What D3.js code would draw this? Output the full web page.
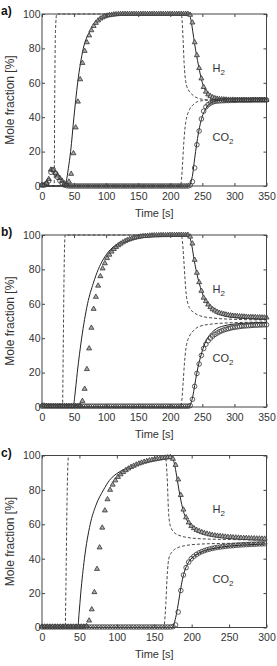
<!DOCTYPE html>
<html>
<head>
<meta charset="utf-8">
<script src="https://cdn.jsdelivr.net/npm/d3@7"></script>
<style>
  body { margin: 0; background: #fff; }
  svg { display: block; font-family: "Liberation Sans", Arial, sans-serif; }
</style>
</head>
<body>
<div id="chart"></div>
<script>
// sampling times of the measured points [s]
const timeAB = [0,3.5,7,10.5,14,17.5,21,24.5,28,31.5,35,38.5,42,45.5,49,52.5,56,59.5,63,66.5,
  70,73.5,77,80.5,84,87.5,91,94.5,98,101.5,105,108.5,112,115.5,119,122.5,126,129.5,133,136.5,
  140,143.5,147,150.5,154,157.5,161,164.5,168,171.5,175,178.5,182,185.5,189,192.5,196,199.5,203,206.5,
  210,213.5,217,220.5,224,227.5,231,234.5,238,241.5,245,248.5,252,255.5,259,262.5,266,269.5,273,276.5,
  280,283.5,287,290.5,294,297.5,301,304.5,308,311.5,315,318.5,322,325.5,329,332.5,336,339.5,343,346.5,350];
const timeC = [0,3.5,7,10.5,14,17.5,21,24.5,28,31.5,35,38.5,42,45.5,49,52.5,56,59.5,63,66.5,
  70,73.5,77,80.5,84,87.5,91,94.5,98,101.5,105,108.5,112,115.5,119,122.5,126,129.5,133,136.5,
  140,143.5,147,150.5,154,157.5,161,164.5,168,171.5,175,178.5,182,185.5,189,192.5,196,199.5,203,206.5,
  210,213.5,217,220.5,224,227.5,231,234.5,238,241.5,245,248.5,252,255.5,259,262.5,266,269.5,273,276.5,
  280,283.5,287,290.5,294,297.5];

// measured mole fractions [%]
const h2ExpA = [0.5,0.5,1.5,4,9.5,9,7.5,6,4.5,3,
  1.5,1,2.5,7,19,34,49,62,71.5,78.5,
  83.5,87.5,90.5,93,94.8,96.2,97.3,98,98.6,99,
  99.3,99.5,99.7,99.8,99.9,100,100,100,100,100,
  100,100,100,100,100,100,100,100,100,100,
  100,100,100,100,100,100,100,100,100,100,
  100,100,100,100,100,100,99.5,95,83.5,76,
  68.5,62.5,57.5,54.8,53.2,52.2,51.5,51,50.7,50.5,
  50.4,50.3,50.2,50.1,50.1,50.1,50,50,50,50,
  50,50,50,50,50,50,50,50,50,50,50];
const co2ExpA = [0.5,0.5,1.5,3,8,9.5,7.5,5,3,1.5,
  0.5,0.2,0,0,0,0,0,0,0,0,
  0,0,0,0,0,0,0,0,0,0,
  0,0,0,0,0,0,0,0,0,0,
  0,0,0,0,0,0,0,0,0,0,
  0,0,0,0,0,0,0,0,0,0,
  0,0,0,0,0,0,0.5,2.5,10.5,24,
  32,39,43.5,46,47.3,48.2,48.8,49.2,49.4,49.5,
  49.6,49.6,49.7,49.7,49.8,49.8,49.8,49.9,49.9,49.9,
  49.9,49.9,49.9,49.9,50,50,50,50,50,50,50];
const h2ExpB = [0.8,0.8,0.6,0.5,0.5,0.5,0.5,0.5,0.5,0.5,
  0.5,0.5,0.5,0.5,0.5,0.5,0.5,0.8,3.5,10.5,
  22,34,46,57,64,70.5,76,80.5,83.5,86.5,
  88.5,90.3,91.8,93,94,94.9,95.7,96.4,97,97.5,
  97.9,98.3,98.6,98.9,99.1,99.3,99.4,99.5,99.6,99.7,
  99.8,99.8,99.8,99.9,99.9,99.9,99.9,100,100,100,
  100,100,100,100,100,100,99,95,85.5,78,
  72.5,67.5,63.5,61.5,59.5,58,56.8,56,55.3,54.7,
  54.3,54,53.7,53.4,53.2,53,52.9,52.8,52.7,52.6,
  52.5,52.4,52.3,52.3,52.2,52.2,52.1,52.1,52,52,52];
const co2ExpB = [0.5,0.5,0.5,0.5,0.5,0.5,0.5,0.5,0.5,0.5,
  0.5,0.5,0.5,0.5,0.5,0.5,0.5,0.5,0.5,0.5,
  0.5,0.5,0.5,0.5,0.5,0.5,0.5,0.5,0.5,0.5,
  0.5,0.5,0.5,0.5,0.5,0.5,0.5,0.5,0.5,0.5,
  0.5,0.5,0.5,0.5,0.5,0.5,0.5,0.5,0.5,0.5,
  0.5,0.5,0.5,0.5,0.5,0.5,0.5,0.5,0.5,0.5,
  0.5,0.5,0.5,0.5,0.5,0.5,0.8,4.5,12,19.5,
  25,30,34,36.5,38.5,40,41.2,42.2,43,43.7,
  44.3,44.8,45.2,45.6,45.9,46.2,46.4,46.6,46.8,47,
  47.1,47.2,47.3,47.4,47.5,47.6,47.6,47.7,47.7,47.8,47.8];
const h2ExpC = [0.5,0.5,0.5,0.5,0.5,0.5,0.5,0.5,0.5,0.5,
  0.5,0.5,0.5,0.5,0.5,0.5,0.5,0.8,4,10.5,
  20.5,34,46.5,58,68,74.5,80,83,85.5,87.5,
  89,90.3,91.4,92.4,93.3,94,94.7,95.3,95.8,96.3,
  96.7,97.1,97.4,97.7,98,98.2,98.5,98.7,98.9,99,
  98,94.5,86,77,68.5,64,61,59,57.7,56.7,
  56,55.4,54.9,54.5,54.1,53.8,53.5,53.3,53.1,52.9,
  52.8,52.6,52.5,52.4,52.3,52.2,52.1,52,52,51.9,
  51.8,51.8,51.7,51.7,51.6,51.6];
const co2ExpC = [0.3,0.3,0.3,0.3,0.3,0.3,0.3,0.3,0.3,0.3,
  0.3,0.3,0.3,0.3,0.3,0.3,0.3,0.3,0.3,0.3,
  0.3,0.3,0.3,0.3,0.3,0.3,0.3,0.3,0.3,0.3,
  0.3,0.3,0.3,0.3,0.3,0.3,0.3,0.3,0.3,0.3,
  0.3,0.3,0.3,0.3,0.3,0.3,0.3,0.3,0.3,0.3,
  0.5,1.5,9,21.5,30.5,34.8,38,40,41.4,42.5,
  43.4,44.1,44.7,45.2,45.6,46,46.3,46.6,46.8,47,
  47.2,47.4,47.5,47.6,47.8,47.9,48,48.1,48.2,48.3,
  48.4,48.4,48.5,48.6,48.6,48.7];

// model curves (solid), [time, value]
const h2ModelA = [[0,0],[36,0],[38,3],[41,10],[44.6,20],[49.8,40],[55.6,60],[64.4,80],[74.8,90],[85,95],
  [95,97.8],[106,99],[120,99.8],[140,100],[229,100],[232,97],[235,90],[238,82.5],[241,76],[244,70],
  [247,64.5],[250,60],[254,56],[258,53.5],[263,51.8],[268,50.9],[275,50.4],[290,50.1],[350,50]];
const co2ModelA = [[0,0],[229,0],[232,2],[235,7],[238,16],[241,24],[244,31],[247,36.5],[250,40.5],
  [254,44],[258,46.5],[263,48.2],[268,49.1],[275,49.6],[290,49.9],[350,50]];
const h2ModelB = [[0,0],[48.8,0],[51,6],[55,20],[61.8,40],[71,60],[80,72],[87.7,80],[95,85.5],[103,90],
  [111,93],[119,95],[130,97],[145,98.7],[160,99.5],[180,99.9],[228,100],[231,98],[234,93],[237,86],
  [240,80],[243,75],[247,69.5],[251,65],[256,61],[262,58],[270,55.5],[280,53.5],[295,52.2],[315,51.5],
  [335,51.1],[350,51]];
const co2ModelB = [[0,0],[229,0],[232,2],[235,6],[238,12.5],[241,19],[245,26],[249,31.5],[253,36],
  [258,40],[264,43],[272,45.5],[282,47],[295,48],[315,48.7],[350,49.1]];
const h2ModelC = [[0,0],[47.8,0],[49.5,8],[51.8,20],[56.7,40],[64.4,60],[72,71],[82.2,80],[90,85.5],
  [100,89.5],[110,92],[120,94],[135,96.2],[150,97.7],[165,98.7],[173,99.1],[175,98],[177,95],[180,88],
  [183,80],[186,73],[189,67.5],[193,63],[198,59.5],[205,57],[215,55.2],[230,53.8],[250,52.7],[275,51.9],
  [300,51.4]];
const co2ModelC = [[0,0],[174,0],[176,1.5],[178,4.5],[181,11],[184,19],[187,26.5],[190,32],[194,36.5],
  [199,39.8],[205,42],[215,44.3],[230,46],[250,47.3],[275,48.1],[300,48.6]];

// feed curves (dashed), [time, value]
const h2FeedA = [[0,0],[19,0],[19.8,50],[21,90],[23,100],[217,100],[218.5,96],[220,85],[221.5,72],
  [223,64],[225,59],[228,56],[232,54],[236,52.5],[242,51.2],[250,50.4],[265,50],[350,50]];
const co2FeedA = [[0,0],[216,0],[217.5,4],[219,12],[220.5,22],[222,30],[224,37],[226.4,41],[230,44.5],
  [235.7,47.3],[242,49],[250,49.6],[265,50],[350,50]];
const h2FeedB = [[0,0],[32,0],[33,30],[34.5,80],[36,100],[217,100],[219,96],[221,86],[223,74],[225,65],
  [227.5,60],[231,57],[236.5,55],[246.5,53],[267,51.7],[298,51],[350,50.6]];
const co2FeedB = [[0,0],[216,0],[218,4],[220,14],[222,25],[224,33],[226.5,38],[229,40.5],[236.5,44.5],
  [246.5,47],[267,48.3],[298,49],[350,49.4]];
const h2FeedC = [[0,0],[31,0],[32,25],[33.5,75],[35.5,100],[164.5,100],[166,96],[167.5,85],[169,68],
  [170.5,61],[173,57.5],[176,55.5],[182,53.8],[190,52.7],[212,51.6],[256,51.1],[300,50.8]];
const co2FeedC = [[0,0],[162.5,0],[164,4],[165.5,14],[167,28],[168.5,37],[170,41],[173,43.5],[176,45],
  [182,46.5],[190,47.5],[212,48.5],[256,49],[300,49.3]];

const xTicksAB = [0, 50, 100, 150, 200, 250, 300, 350];
const xTicksC = [0, 50, 100, 150, 200, 250, 300];
const yTicks = [0, 20, 40, 60, 80, 100];

const panels = [
  { label: "a)", top: 14, xMax: 350, xTicks: xTicksAB, time: timeAB,
    h2Exp: h2ExpA, co2Exp: co2ExpA, h2Model: h2ModelA, co2Model: co2ModelA, h2Feed: h2FeedA, co2Feed: co2FeedA },
  { label: "b)", top: 235, xMax: 350, xTicks: xTicksAB, time: timeAB,
    h2Exp: h2ExpB, co2Exp: co2ExpB, h2Model: h2ModelB, co2Model: co2ModelB, h2Feed: h2FeedB, co2Feed: co2FeedB },
  { label: "c)", top: 455.5, xMax: 300, xTicks: xTicksC, time: timeC,
    h2Exp: h2ExpC, co2Exp: co2ExpC, h2Model: h2ModelC, co2Model: co2ModelC, h2Feed: h2FeedC, co2Feed: co2FeedC },
];

const width = 277;
const height = 666;
const left = 42, right = 266.5, plotH = 172;

const svg = d3.select("#chart").append("svg")
  .attr("width", width).attr("height", height);

function drawPanel(p) {
  const bottom = p.top + plotH;
  const x = d3.scaleLinear().domain([0, p.xMax]).range([left, right]);
  const y = d3.scaleLinear().domain([0, 100]).range([bottom, p.top]);
  const g = svg.append("g");

  const line = d3.line().x((d) => x(d[0])).y((d) => y(d[1])).curve(d3.curveMonotoneX);

  // feed (dashed)
  [p.h2Feed, p.co2Feed].forEach((d) => {
    g.append("path").datum(d).attr("d", line)
      .attr("fill", "none").attr("stroke", "#333").attr("stroke-width", 0.9)
      .attr("stroke-dasharray", "3,2");
  });
  // model (solid)
  [p.h2Model, p.co2Model].forEach((d) => {
    g.append("path").datum(d).attr("d", line)
      .attr("fill", "none").attr("stroke", "#222").attr("stroke-width", 1);
  });

  // measured H2: triangles
  g.append("g").selectAll("path")
    .data(p.time.map((t, i) => [t, p.h2Exp[i]]))
    .join("path")
    .attr("d", (d) => `M${x(d[0])},${y(d[1]) - 2.9}l2.5,4.3h-5z`)
    .attr("fill", "#a8a8a8").attr("stroke", "#333").attr("stroke-width", 0.8);

  // measured CO2: circles
  g.append("g").selectAll("circle")
    .data(p.time.map((t, i) => [t, p.co2Exp[i]]))
    .join("circle")
    .attr("cx", (d) => x(d[0])).attr("cy", (d) => y(d[1])).attr("r", 2.3)
    .attr("fill", "none").attr("stroke", "#333").attr("stroke-width", 0.8);

  // frame
  g.append("rect").attr("x", left).attr("y", p.top)
    .attr("width", right - left).attr("height", plotH)
    .attr("fill", "none").attr("stroke", "#444").attr("stroke-width", 1);

  const styleAxis = (sel) => {
    sel.select(".domain").remove();
    sel.selectAll(".tick line").attr("stroke", "#444");
    sel.selectAll("text").attr("fill", "#333").attr("font-size", 10.5)
      .attr("font-family", "Liberation Sans, Arial, sans-serif");
  };

  g.append("g").attr("transform", `translate(0,${bottom})`)
    .call(d3.axisBottom(x).tickValues(p.xTicks).tickSize(-3).tickPadding(6.5))
    .call(styleAxis);
  g.append("g").attr("transform", `translate(0,${p.top})`)
    .call(d3.axisTop(x).tickValues(p.xTicks).tickSize(-3).tickFormat(""))
    .call(styleAxis);
  g.append("g").attr("transform", `translate(${left},0)`)
    .call(d3.axisLeft(y).tickValues(yTicks).tickSize(-3).tickPadding(1.5))
    .call(styleAxis);
  g.append("g").attr("transform", `translate(${right},0)`)
    .call(d3.axisRight(y).tickValues(yTicks).tickSize(-3).tickFormat(""))
    .call(styleAxis);

  // axis titles
  g.append("text")
    .attr("transform", `translate(13.5,${p.top + plotH / 2}) rotate(-90)`)
    .attr("text-anchor", "middle").attr("font-size", 12).attr("fill", "#333")
    .text("Mole fraction [%]");
  g.append("text")
    .attr("x", (left + right) / 2).attr("y", bottom + 30.5)
    .attr("text-anchor", "middle").attr("font-size", 11).attr("fill", "#333")
    .text("Time [s]");

  // panel letter
  g.append("text").attr("x", 1).attr("y", p.top + 1)
    .attr("font-size", 12).attr("font-weight", "bold").attr("fill", "#111")
    .text(p.label);

  // species labels
  const species = [["H", y(66.5)], ["CO", y(26)]];
  species.forEach(([name, yy]) => {
    const t = g.append("text").attr("x", 212.5).attr("y", yy)
      .attr("font-size", 11).attr("fill", "#333");
    t.append("tspan").text(name);
    t.append("tspan").attr("font-size", 8).attr("dy", 3).text("2");
  });
}

panels.forEach(drawPanel);
</script>
</body>
</html>
